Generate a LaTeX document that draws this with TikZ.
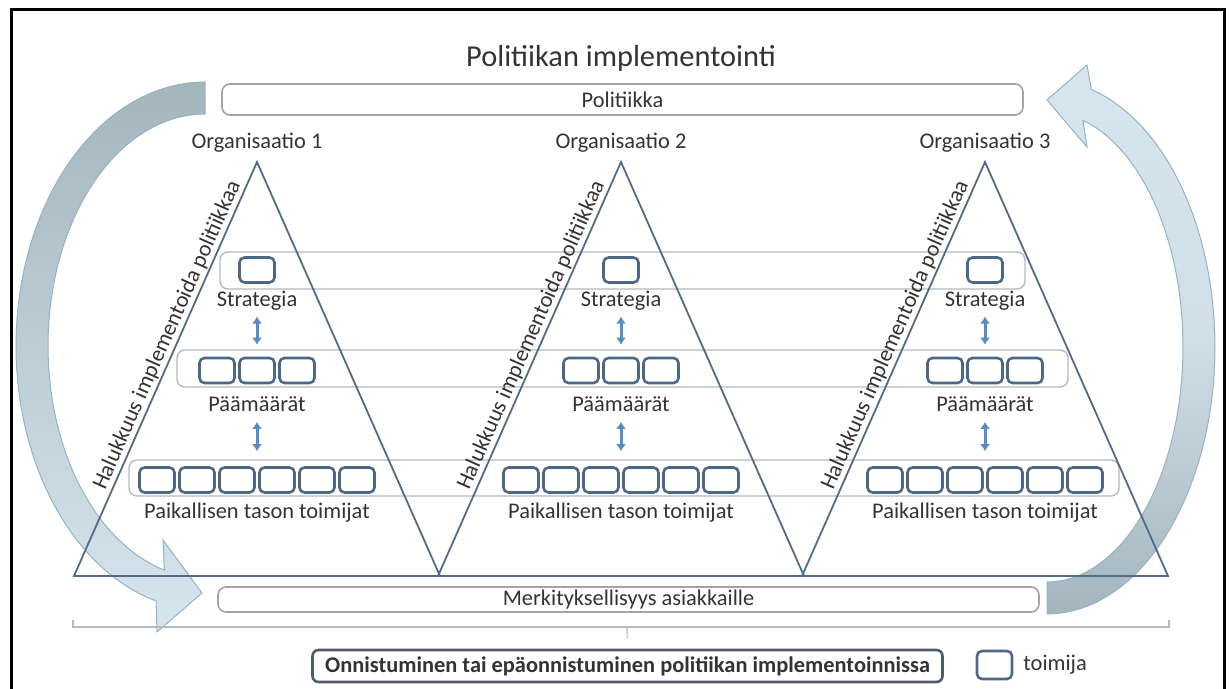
\documentclass[tikz,border=0pt]{standalone}
\usepackage{fontspec}
\setmainfont{Carlito}
\usetikzlibrary{arrows.meta}

\definecolor{arrowgray}{RGB}{165,181,190}
\definecolor{arrowblue}{RGB}{214,229,238}
\definecolor{arrowedge}{RGB}{150,178,198}
\definecolor{triline}{RGB}{80,108,136}
\definecolor{boxblue}{RGB}{76,104,134}
\definecolor{bandgray}{RGB}{178,186,194}
\definecolor{bargray}{RGB}{160,164,168}
\definecolor{duoblue}{RGB}{88,140,195}
\definecolor{txt}{RGB}{51,51,51}
\definecolor{resline}{RGB}{78,92,108}

\newcommand{\lblfont}{\fontsize{11.2}{13.4}\selectfont}
\newcommand{\ttlfont}{\fontsize{15.2}{18}\selectfont}

\tikzset{
	lbl/.style={font=\lblfont, text=txt, inner sep=0pt},
	tri/.style={draw=triline, line width=0.9pt},
	actor/.style={draw=boxblue, line width=1.3pt, rounded corners=2.5pt, fill=white, minimum width=17.5pt, minimum height=12.5pt, inner sep=0pt},
	band/.style={draw=bandgray, line width=0.7pt, rounded corners=4pt},
	bar/.style={draw=bargray, line width=0.8pt, rounded corners=4pt, font=\lblfont, text=txt, inner sep=0pt},
	duo/.style={draw=duoblue, line width=1.5pt, {Latex[length=3.5pt,width=5pt]}-{Latex[length=3.5pt,width=5pt]}},
	brk/.style={draw=bandgray, line width=0.6pt},
	cyclearrow/.style={draw=arrowedge, line width=0.5pt}
}

\begin{document}
\begin{tikzpicture}[x=0.5pt,y=-0.5pt]
	\useasboundingbox (0,0) rectangle (1231,689);
	\path[cyclearrow, top color=arrowgray, bottom color=arrowblue]
		plot[domain=270:105, samples=60, variable=\t] ({205+189*cos(\t)},{346+264*sin(\t)})
		-- (157,632) -- (202,593) -- (163,540)
		-- plot[domain=105:270, samples=60, variable=\t] ({205+157*cos(\t)},{346+232*sin(\t)}) -- cycle;
	\path[cyclearrow, top color=arrowblue, bottom color=arrowgray, middle color=arrowblue!85!arrowgray]
		plot[domain=90:-74.7, samples=60, variable=\t] ({1047+168*cos(\t)},{347+267*sin(\t)})
		-- (1087,65) -- (1047,100) -- (1087,147)
		-- plot[domain=-74.7:90, samples=60, variable=\t] ({1047+136*cos(\t)},{347+235*sin(\t)}) -- cycle;
	\draw[line width=1.5pt] (11,10) rectangle (1224,705);
	\node[font=\ttlfont, text=txt] (title) at (621,58) {Politiikan implementointi};
	\node[bar, minimum width=400.5pt, minimum height=15.5pt] (pol) at (622.5,99.5) {Politiikka};
	\draw[band] (220,252) rectangle (1025,289);
	\draw[band] (177,350) rectangle (1068,387);
	\draw[band] (129,460) rectangle (1119,496);
	\foreach \c/\n in {257/1,621/2,985/3}{
		\draw[tri] (\c-183,576) coordinate (bl\n) -- (\c,162) coordinate (top\n) -- (\c+183,576) coordinate (br\n) -- cycle;
		\node[lbl] (org\n) at (\c,143) {Organisaatio \n};
		\path (bl\n) -- node[lbl, sloped, above, pos=0.57, inner sep=1pt] (hal\n) {Halukkuus implementoida politiikkaa} (top\n);
		\node[actor] (s\n) at (\c,270) {};
		\node[lbl] (st\n) at (\c,301) {Strategia};
		\foreach \i in {1,2,3}
			\node[actor] (p\n-\i) at (\c-80+40*\i,370.5) {};
		\node[lbl] (pt\n) at (\c,404) {Päämäärät};
		\foreach \i in {1,...,6}
			\node[actor] (l\n-\i) at (\c-140+40*\i,480) {};
		\node[lbl] (lt\n) at (\c,513) {Paikallisen tason toimijat};
		\draw[duo, shorten <=2.75pt, shorten >=6pt] (st\n) -- (p\n-2);
		\draw[duo, shorten <=5pt, shorten >=7.5pt] (pt\n) -- (l\n-3.north -| pt\n);
	}
	\node[bar, minimum width=410.5pt, minimum height=12.5pt] (merk) at (628.5,599.5) {Merkityksellisyys asiakkaille};
	\draw[brk] (73,620) -- (73,627) -- (1169,627) -- (1169,620);
	\coordinate (mid) at (627,627);
	\node[draw=resline, line width=1.3pt, rounded corners=3pt, minimum width=315pt, minimum height=16pt, inner sep=0pt, font=\lblfont\bfseries, text=txt] (res) at (627.5,666) {Onnistuminen tai epäonnistuminen politiikan implementoinnissa};
	\draw[brk, shorten >=5pt] (mid) -- (res);
	\node[actor, minimum height=14pt] (key) at (994.5,665) {};
	\node[lbl, anchor=west] (keytxt) at (1023,665) {toimija};
\end{tikzpicture}
\end{document}
